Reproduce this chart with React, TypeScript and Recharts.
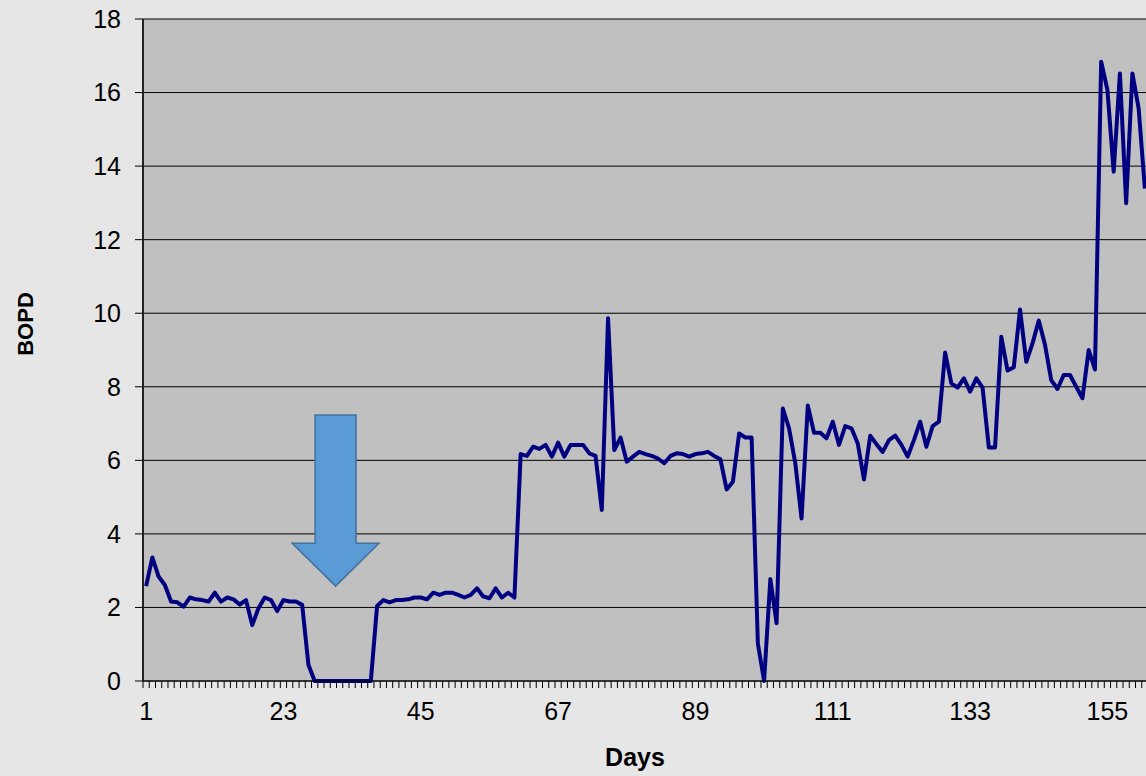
import React from 'react';
import {
  LineChart,
  Line,
  XAxis,
  YAxis,
  CartesianGrid,
  ReferenceArea,
  Label,
} from 'recharts';

// Daily oil rate (BOPD), days 1..161
const bopd = [
  2.58, 3.36, 2.84, 2.61, 2.16, 2.14, 2.02, 2.27, 2.22, 2.2,
  2.16, 2.4, 2.16, 2.27, 2.22, 2.08, 2.2, 1.52, 1.98, 2.27,
  2.2, 1.9, 2.2, 2.16, 2.16, 2.07, 0.44, 0, 0, 0,
  0, 0, 0, 0, 0, 0, 0, 2.04, 2.2, 2.14,
  2.2, 2.2, 2.22, 2.27, 2.27, 2.22, 2.4, 2.34, 2.4, 2.4,
  2.34, 2.27, 2.34, 2.52, 2.3, 2.25, 2.52, 2.27, 2.4, 2.27,
  6.17, 6.12, 6.37, 6.31, 6.42, 6.1, 6.48, 6.1, 6.42, 6.42,
  6.42, 6.19, 6.12, 4.65, 9.86, 6.28, 6.62, 5.96, 6.1, 6.23,
  6.17, 6.12, 6.05, 5.92, 6.12, 6.19, 6.17, 6.1, 6.17, 6.19,
  6.23, 6.12, 6.03, 5.21, 5.42, 6.73, 6.62, 6.62, 1.02, 0,
  2.77, 1.57, 7.41, 6.87, 5.92, 4.42, 7.49, 6.75, 6.75, 6.6,
  7.05, 6.42, 6.93, 6.87, 6.46, 5.48, 6.67, 6.44, 6.23, 6.55,
  6.67, 6.42, 6.1, 6.55, 7.05, 6.37, 6.93, 7.05, 8.93, 8.09,
  7.98, 8.23, 7.87, 8.23, 7.98, 6.35, 6.35, 9.36, 8.44, 8.53,
  10.1, 8.68, 9.18, 9.8, 9.14, 8.18, 7.94, 8.32, 8.32, 8.0,
  7.69, 9.0, 8.47, 16.84, 16.07, 13.85, 16.52, 12.99, 16.52, 15.57,
  13.39,
];

const days = bopd.map((_, i) => i + 1);
const dayLabels = [1, 23, 45, 67, 89, 111, 133, 155];
const yTicks = [0, 2, 4, 6, 8, 10, 12, 14, 16, 18];

// arrow annotation box (data units)
const arrowDays = [24.4, 38.3];
const arrowBopd = [2.58, 7.23];

const data = days.map((d, i) => ({ day: d, bopd: bopd[i] }));

const CHART_W = 1156;
const CHART_H = 776;
const MARGIN = { top: 19, right: 8, left: 83, bottom: 55 };
const Y_AXIS_W = 60;
const PLOT_W = CHART_W - MARGIN.left - MARGIN.right - Y_AXIS_W;
const STEP = PLOT_W / days.length;
const FONT = '"Liberation Sans", Arial, sans-serif';

function DayTick(props: any) {
  const { x, y, payload } = props;
  const bx = x - STEP / 2;
  return (
    <g>
      <line x1={bx} y1={y} x2={bx} y2={y + 7} stroke="#000" strokeWidth={1} />
      {dayLabels.includes(payload.value) && (
        <text
          x={x}
          y={y + 21}
          dy="0.71em"
          textAnchor="middle"
          fontFamily={FONT}
          fontSize={25}
          fill="#000"
        >
          {payload.value}
        </text>
      )}
    </g>
  );
}

function DownArrow(props: any) {
  const { x, y, width: w, height: h } = props;
  const sL = x + w * 0.264;
  const sR = x + w * 0.736;
  const yh = y + h * 0.75;
  const pts = [
    [sL, y], [sR, y], [sR, yh], [x + w, yh], [x + w / 2, y + h], [x, yh], [sL, yh],
  ].map((p) => p.join(',')).join(' ');
  return <polygon points={pts} fill="#5b9bd5" stroke="#41719c" strokeWidth={1.5} />;
}

export default function App() {
  return (
    <div
      style={{
        position: 'absolute',
        left: 0,
        top: 0,
        width: 1146,
        height: 776,
        overflow: 'hidden',
        background: '#e6e6e6',
      }}
    >
      <LineChart width={CHART_W} height={CHART_H} data={data} margin={MARGIN}>
        <CartesianGrid vertical={false} stroke="#000" strokeWidth={1} fill="#c0c0c0" fillOpacity={1} />
        <XAxis
          dataKey="day"
          type="number"
          domain={[0.5, days.length + 0.5]}
          ticks={days}
          interval={0}
          tickLine={false}
          tickSize={0}
          tickMargin={0}
          height={40}
          axisLine={{ stroke: '#000', strokeWidth: 1 }}
          tick={<DayTick />}
        >
          <Label
            content={() => (
              <text x={635} y={766} textAnchor="middle" fontFamily={FONT} fontSize={25} fontWeight="bold" fill="#000">
                Days
              </text>
            )}
          />
        </XAxis>
        <YAxis
          width={Y_AXIS_W}
          domain={[0, 18]}
          ticks={yTicks}
          interval={0}
          tickSize={8}
          tickMargin={14}
          axisLine={{ stroke: '#222', strokeWidth: 2 }}
          tickLine={{ stroke: '#000' }}
          tick={{ fill: '#000', fontSize: 25, fontFamily: FONT }}
        >
          <Label
            content={() => (
              <text
                x={25}
                y={324}
                transform="rotate(-90 25 324)"
                textAnchor="middle"
                dominantBaseline="central"
                fontFamily={FONT}
                fontSize={22}
                fontWeight="bold"
                fill="#000"
              >
                BOPD
              </text>
            )}
          />
        </YAxis>
        <ReferenceArea
          x1={arrowDays[0]}
          x2={arrowDays[1]}
          y1={arrowBopd[0]}
          y2={arrowBopd[1]}
          shape={<DownArrow />}
        />
        <Line
          type="linear"
          dataKey="bopd"
          stroke="#000080"
          strokeWidth={4}
          strokeLinejoin="round"
          dot={false}
          isAnimationActive={false}
        />
      </LineChart>
    </div>
  );
}
